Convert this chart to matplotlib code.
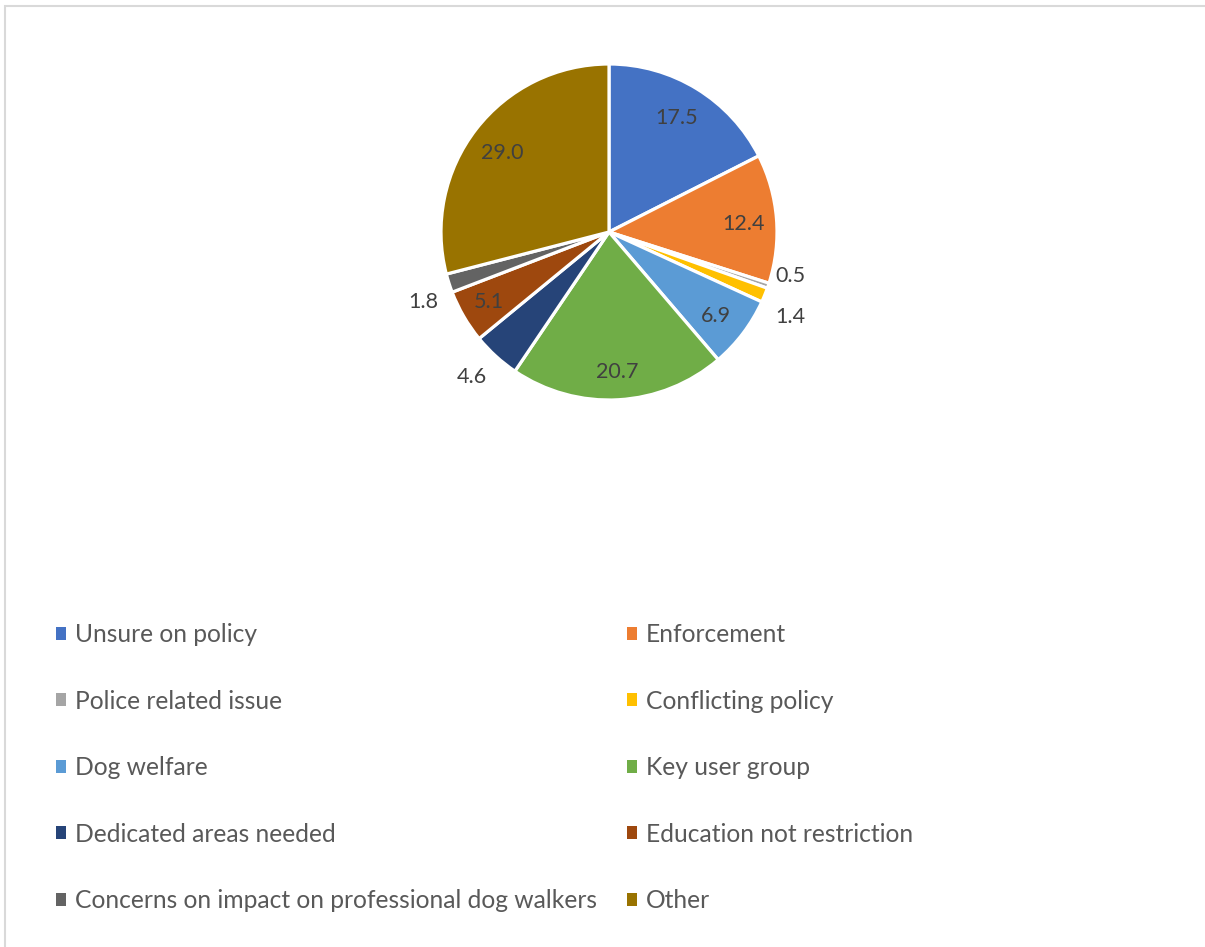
import numpy as np
import matplotlib.pyplot as plt
from matplotlib.patches import Patch, Rectangle

plt.rcParams['font.family'] = ['Lato', 'DejaVu Sans']

categories = ['Unsure on policy', 'Enforcement', 'Police related issue',
              'Conflicting policy', 'Dog welfare', 'Key user group',
              'Dedicated areas needed', 'Education not restriction',
              'Concerns on impact on professional dog walkers', 'Other']
values = [17.5, 12.4, 0.5, 1.4, 6.9, 20.7, 4.6, 5.1, 1.8, 29.0]
colors = ['#4472C4', '#ED7D31', '#A5A5A5', '#FFC000', '#5B9BD5',
          '#70AD47', '#264478', '#9E480E', '#636363', '#997300']

# label radius (fraction of pie radius) and small angular nudge in degrees
label_r = [0.79, 0.80, 1.11, 1.19, 0.81, 0.835, 1.19, 0.83, 1.18, 0.79]
label_nudge = [1, -1, 5, -3, -1, 0, -1, 0, 3, 1]

W, H = 1205, 947
fig = plt.figure(figsize=(W / 100, H / 100), dpi=100)

# thin frame around the chart area
fig.add_artist(Rectangle((5 / W, -0.1), 1.2, 1 - 5.5 / H + 0.1,
                         transform=fig.transFigure, fill=False,
                         edgecolor='#D9D9D9', linewidth=1.5))

cx, cy, R = 609, 232, 168
ax = fig.add_axes([(cx - R) / W, (H - cy - R) / H, 2 * R / W, 2 * R / H])
wedges, _ = ax.pie(values, colors=colors, startangle=90, counterclock=False,
                   radius=1.0,
                   wedgeprops=dict(edgecolor='white', linewidth=2.3))
ax.set_xlim(-1, 1)
ax.set_ylim(-1, 1)
ax.set_aspect('equal')
ax.axis('off')

for w, v, r, nd in zip(wedges, values, label_r, label_nudge):
    ang = np.deg2rad((w.theta1 + w.theta2) / 2 + nd)
    ax.text(r * np.cos(ang), r * np.sin(ang), f'{v:.1f}',
            ha='center', va='center', fontsize=15.5, color='#404040',
            clip_on=False)

handles = [Patch(facecolor=c, edgecolor='none') for c in colors]
left = list(range(0, 10, 2))
right = list(range(1, 10, 2))
leg_kw = dict(frameon=False, fontsize=17.7, handlelength=0.42,
              handleheight=0.42, handletextpad=0.35, labelspacing=1.77,
              borderaxespad=0, borderpad=0, labelcolor='#595959')
fig.legend([handles[i] for i in left], [categories[i] for i in left],
           loc='upper left', bbox_to_anchor=(56 / W, 1 - 623 / H), **leg_kw)
fig.legend([handles[i] for i in right], [categories[i] for i in right],
           loc='upper left', bbox_to_anchor=(627 / W, 1 - 623 / H), **leg_kw)

fig.savefig('out.png', dpi=100, facecolor='white')
